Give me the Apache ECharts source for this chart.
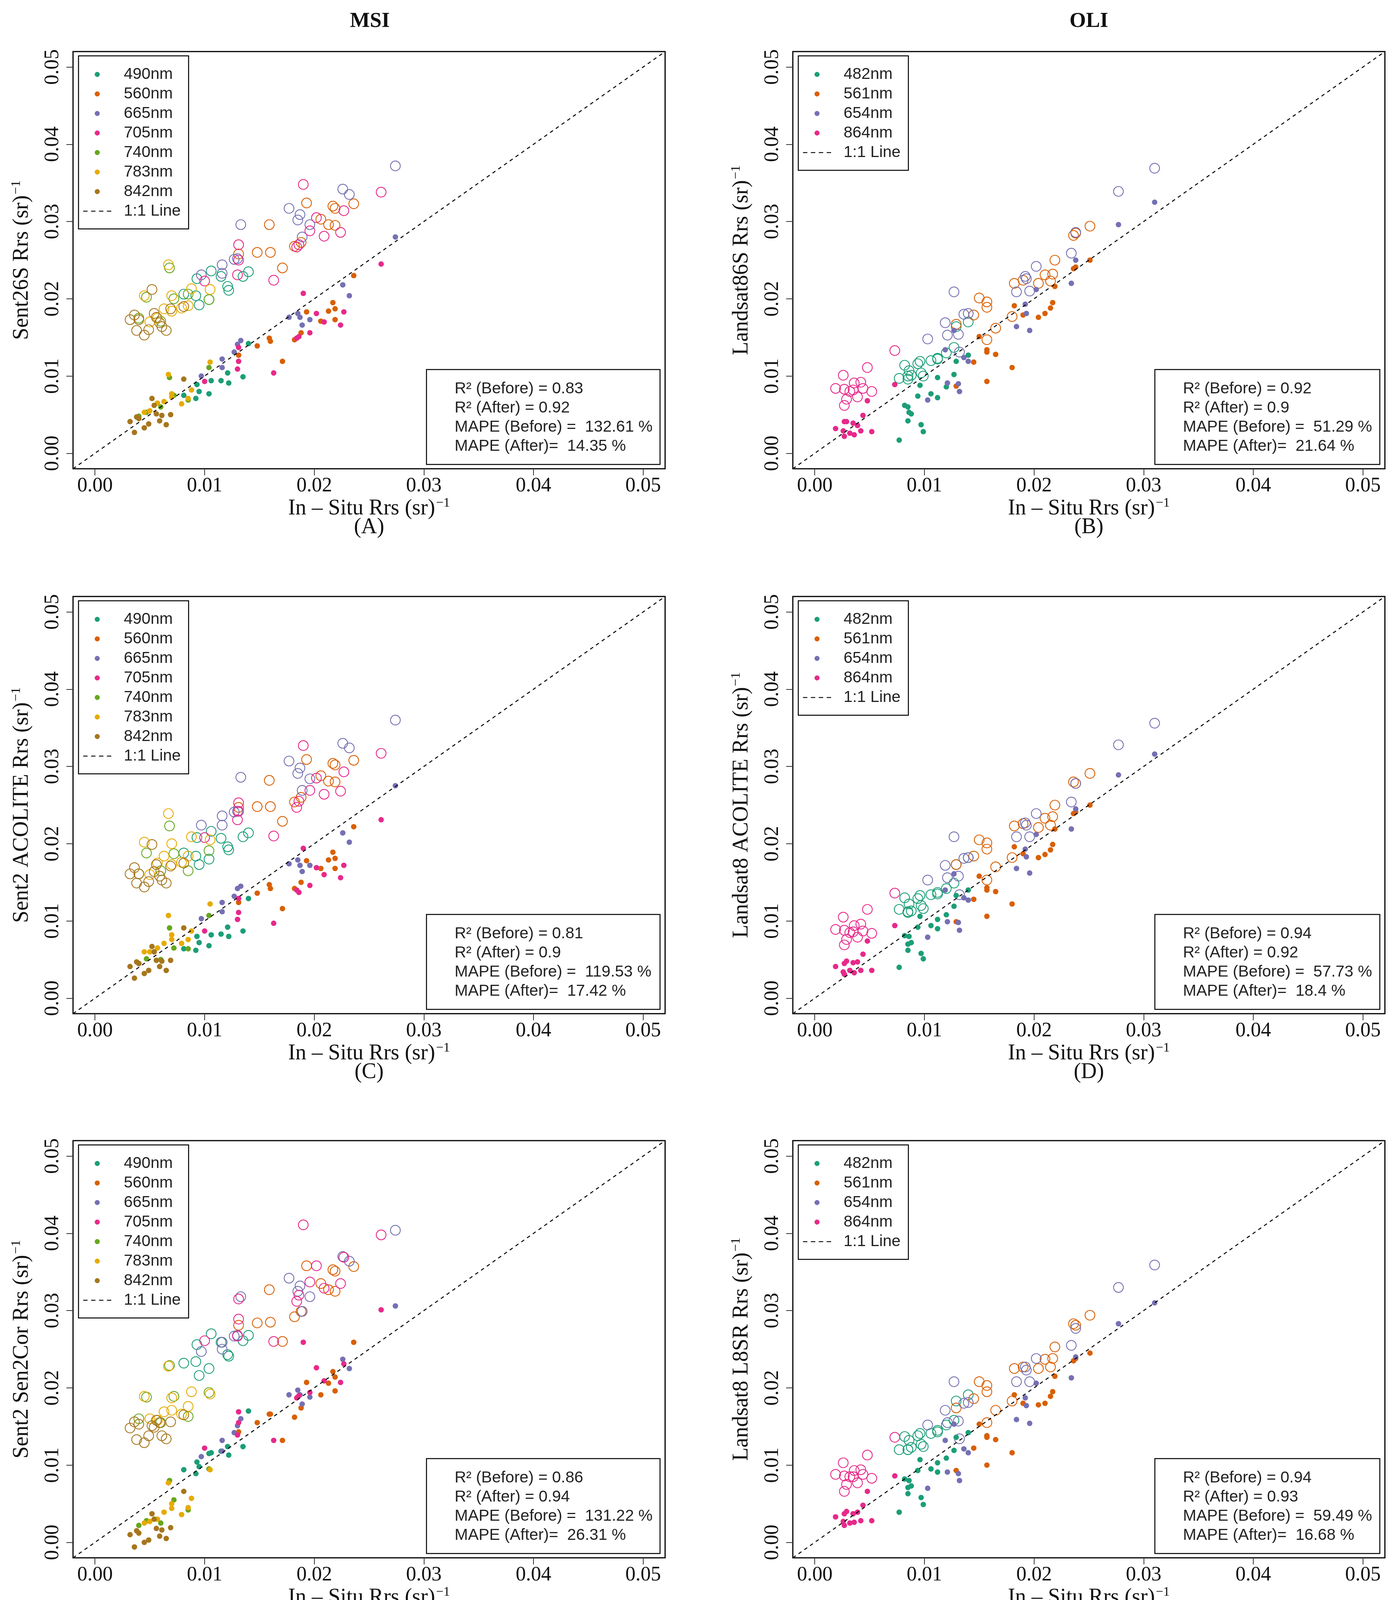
<!DOCTYPE html>
<html>
<head>
<meta charset="utf-8">
<script src="https://cdn.jsdelivr.net/npm/echarts@6/dist/echarts.min.js"></script>
<style>
html, body { margin: 0; background: #fff; }
#chart { width: 3577px; height: 4179px; }
</style>
</head>
<body>
<div id="chart"></div>
<script>
// bands and colours (R Dark2)
var msiBands = ['490nm', '560nm', '665nm', '705nm', '740nm', '783nm', '842nm'];
var msiColors = ['#1B9E77', '#D95F02', '#7570B3', '#E7298A', '#66A61E', '#E6AB02', '#A6761D'];
var oliBands = ['482nm', '561nm', '654nm', '864nm'];
var oliColors = ['#1B9E77', '#D95F02', '#7570B3', '#E7298A'];
var tickValues = [0, 0.01, 0.02, 0.03, 0.04, 0.05];
var lineEnds = [[-0.002, -0.002], [0.052, 0.052]];

// in-situ Rrs, one list per MSI band
var msiInSitu = [
    [0.0140, 0.0135, 0.0121, 0.0122, 0.0115, 0.0106, 0.0104, 0.0093, 0.0092, 0.0081, 0.0095],
    [0.0236, 0.0217, 0.0219, 0.0213, 0.0193, 0.0206, 0.0219, 0.0159, 0.0160, 0.0148, 0.0171, 0.0188, 0.0182, 0.0131],
    [0.0274, 0.0226, 0.0232, 0.0177, 0.0187, 0.0185, 0.0196, 0.0189, 0.0133, 0.0130, 0.0127, 0.0116, 0.0116, 0.0097],
    [0.0261, 0.0190, 0.0227, 0.0224, 0.0209, 0.0202, 0.0196, 0.0184, 0.0186, 0.0163, 0.0131, 0.0131, 0.0130, 0.0100],
    [0.0068, 0.0047, 0.0072, 0.0104, 0.0085, 0.0040, 0.0060],
    [0.0067, 0.0045, 0.0070, 0.0088, 0.0105, 0.0079, 0.0085, 0.0070, 0.0063, 0.0050, 0.0057],
    [0.0032, 0.0036, 0.0038, 0.0040, 0.0045, 0.0049, 0.0052, 0.0054, 0.0056, 0.0059, 0.0061, 0.0065, 0.0069, 0.0081]
];
// (A) 6S
var sent26sBefore = [
    [0.0235, 0.0229, 0.0216, 0.0211, 0.0229, 0.0236, 0.0199, 0.0226, 0.0204, 0.0206, 0.0192],
    [0.0323, 0.0320, 0.0317, 0.0296, 0.0324, 0.0303, 0.0295, 0.0296, 0.0260, 0.0260, 0.0240, 0.0273, 0.0268, 0.0258],
    [0.0372, 0.0342, 0.0335, 0.0317, 0.0309, 0.0302, 0.0296, 0.0280, 0.0296, 0.0252, 0.0251, 0.0244, 0.0233, 0.0231],
    [0.0338, 0.0348, 0.0314, 0.0286, 0.0281, 0.0305, 0.0288, 0.0267, 0.0270, 0.0224, 0.0270, 0.0250, 0.0231, 0.0223],
    [0.0240, 0.0202, 0.0200, 0.0199, 0.0206, 0.0175, 0.0171],
    [0.0244, 0.0204, 0.0204, 0.0213, 0.0212, 0.0188, 0.0191, 0.0184, 0.0187, 0.0170, 0.0175],
    [0.0173, 0.0179, 0.0159, 0.0173, 0.0153, 0.0160, 0.0212, 0.0181, 0.0176, 0.0169, 0.0164, 0.0159, 0.0187, 0.0190]
];
var sent26sAfter = [
    [0.0142, 0.0099, 0.0104, 0.0091, 0.0094, 0.0094, 0.0077, 0.0089, 0.0071, 0.0075, 0.0080],
    [0.0230, 0.0195, 0.0187, 0.0184, 0.0183, 0.0171, 0.0173, 0.0149, 0.0145, 0.0139, 0.0119, 0.0156, 0.0147, 0.0127],
    [0.0280, 0.0218, 0.0204, 0.0176, 0.0176, 0.0181, 0.0173, 0.0166, 0.0146, 0.0141, 0.0131, 0.0122, 0.0111, 0.0100],
    [0.0245, 0.0207, 0.0183, 0.0166, 0.0170, 0.0181, 0.0156, 0.0149, 0.0151, 0.0104, 0.0137, 0.0119, 0.0109, 0.0093],
    [0.0098, 0.0053, 0.0075, 0.0111, 0.0069, 0.0048, 0.0060],
    [0.0102, 0.0053, 0.0077, 0.0082, 0.0118, 0.0064, 0.0071, 0.0073, 0.0067, 0.0055, 0.0065],
    [0.0041, 0.0027, 0.0047, 0.0045, 0.0033, 0.0038, 0.0071, 0.0062, 0.0051, 0.0042, 0.0049, 0.0037, 0.0050, 0.0096]
];
// (C) ACOLITE MSI
var acoliteMsiBefore = [
    [0.0214, 0.0209, 0.0196, 0.0192, 0.0207, 0.0216, 0.0180, 0.0208, 0.0184, 0.0188, 0.0173],
    [0.0308, 0.0304, 0.0302, 0.0281, 0.0309, 0.0288, 0.0280, 0.0282, 0.0248, 0.0248, 0.0229, 0.0260, 0.0254, 0.0247],
    [0.0360, 0.0330, 0.0324, 0.0307, 0.0298, 0.0291, 0.0284, 0.0269, 0.0286, 0.0242, 0.0241, 0.0236, 0.0224, 0.0224],
    [0.0317, 0.0327, 0.0293, 0.0268, 0.0264, 0.0285, 0.0269, 0.0247, 0.0255, 0.0210, 0.0253, 0.0242, 0.0231, 0.0208],
    [0.0223, 0.0188, 0.0187, 0.0191, 0.0165, 0.0161, 0.0165],
    [0.0239, 0.0202, 0.0200, 0.0209, 0.0205, 0.0176, 0.0184, 0.0173, 0.0184, 0.0160, 0.0175],
    [0.0161, 0.0169, 0.0149, 0.0161, 0.0144, 0.0151, 0.0199, 0.0164, 0.0173, 0.0158, 0.0153, 0.0149, 0.0171, 0.0175]
];
var acoliteMsiAfter = [
    [0.0129, 0.0087, 0.0092, 0.0080, 0.0083, 0.0082, 0.0068, 0.0080, 0.0062, 0.0064, 0.0072],
    [0.0222, 0.0189, 0.0181, 0.0179, 0.0178, 0.0168, 0.0168, 0.0147, 0.0142, 0.0136, 0.0116, 0.0150, 0.0142, 0.0124],
    [0.0275, 0.0214, 0.0202, 0.0174, 0.0172, 0.0179, 0.0172, 0.0164, 0.0145, 0.0142, 0.0132, 0.0124, 0.0112, 0.0103],
    [0.0231, 0.0194, 0.0172, 0.0156, 0.0160, 0.0169, 0.0146, 0.0140, 0.0137, 0.0097, 0.0129, 0.0111, 0.0102, 0.0087],
    [0.0091, 0.0051, 0.0065, 0.0107, 0.0064, 0.0045, 0.0050],
    [0.0107, 0.0060, 0.0082, 0.0087, 0.0122, 0.0071, 0.0076, 0.0076, 0.0071, 0.0060, 0.0065],
    [0.0041, 0.0026, 0.0047, 0.0045, 0.0032, 0.0036, 0.0067, 0.0060, 0.0049, 0.0041, 0.0048, 0.0036, 0.0049, 0.0091]
];
// (E) Sen2Cor
var sen2corBefore = [
    [0.0268, 0.0261, 0.0243, 0.0241, 0.0259, 0.0270, 0.0225, 0.0256, 0.0234, 0.0232, 0.0216],
    [0.0357, 0.0353, 0.0351, 0.0327, 0.0358, 0.0335, 0.0325, 0.0327, 0.0285, 0.0284, 0.0260, 0.0299, 0.0292, 0.0281],
    [0.0404, 0.0370, 0.0364, 0.0342, 0.0332, 0.0325, 0.0318, 0.0299, 0.0318, 0.0268, 0.0267, 0.0259, 0.0250, 0.0247],
    [0.0398, 0.0411, 0.0369, 0.0335, 0.0329, 0.0358, 0.0337, 0.0312, 0.0320, 0.0260, 0.0315, 0.0289, 0.0267, 0.0261],
    [0.0229, 0.0188, 0.0189, 0.0194, 0.0163, 0.0160, 0.0155],
    [0.0228, 0.0189, 0.0187, 0.0195, 0.0192, 0.0166, 0.0176, 0.0171, 0.0169, 0.0160, 0.0158],
    [0.0148, 0.0156, 0.0133, 0.0153, 0.0129, 0.0138, 0.0151, 0.0149, 0.0158, 0.0155, 0.0138, 0.0134, 0.0156, 0.0165]
];
var sen2corAfter = [
    [0.0170, 0.0124, 0.0124, 0.0113, 0.0118, 0.0116, 0.0115, 0.0104, 0.0089, 0.0094, 0.0098],
    [0.0259, 0.0221, 0.0214, 0.0206, 0.0207, 0.0191, 0.0196, 0.0166, 0.0166, 0.0155, 0.0132, 0.0174, 0.0162, 0.0143],
    [0.0306, 0.0237, 0.0225, 0.0191, 0.0191, 0.0197, 0.0188, 0.0179, 0.0160, 0.0151, 0.0142, 0.0132, 0.0118, 0.0111],
    [0.0301, 0.0259, 0.0231, 0.0207, 0.0209, 0.0226, 0.0194, 0.0187, 0.0190, 0.0132, 0.0169, 0.0155, 0.0139, 0.0122],
    [0.0080, 0.0028, 0.0055, 0.0095, 0.0042, 0.0022, 0.0025],
    [0.0077, 0.0025, 0.0050, 0.0057, 0.0094, 0.0036, 0.0045, 0.0044, 0.0039, 0.0027, 0.0030],
    [0.0010, -0.0006, 0.0015, 0.0012, 0.0000, 0.0003, 0.0037, 0.0030, 0.0018, 0.0008, 0.0016, 0.0005, 0.0019, 0.0066]
];

// in-situ Rrs, one list per OLI band
var oliInSitu = [
    [0.0140, 0.0129, 0.0127, 0.0120, 0.0112, 0.0112, 0.0106, 0.0096, 0.0094, 0.0097, 0.0099, 0.0086, 0.0082, 0.0085, 0.0088, 0.0085, 0.0077],
    [0.0251, 0.0236, 0.0238, 0.0219, 0.0217, 0.0210, 0.0215, 0.0204, 0.0182, 0.0190, 0.0150, 0.0157, 0.0157, 0.0180, 0.0165, 0.0145, 0.0157, 0.0129],
    [0.0310, 0.0277, 0.0238, 0.0234, 0.0202, 0.0192, 0.0193, 0.0184, 0.0196, 0.0127, 0.0119, 0.0136, 0.0140, 0.0121, 0.0131, 0.0132, 0.0103],
    [0.0073, 0.0048, 0.0026, 0.0019, 0.0027, 0.0032, 0.0036, 0.0042, 0.0044, 0.0039, 0.0029, 0.0027, 0.0052, 0.0035]
];
// (B) 6S
var landsat6sBefore = [
    [0.0170, 0.0164, 0.0137, 0.0130, 0.0123, 0.0122, 0.0120, 0.0119, 0.0116, 0.0104, 0.0100, 0.0107, 0.0114, 0.0096, 0.0101, 0.0100, 0.0097],
    [0.0294, 0.0282, 0.0285, 0.0250, 0.0232, 0.0231, 0.0223, 0.0220, 0.0220, 0.0224, 0.0201, 0.0196, 0.0189, 0.0177, 0.0162, 0.0179, 0.0147, 0.0167],
    [0.0369, 0.0339, 0.0286, 0.0259, 0.0242, 0.0229, 0.0226, 0.0209, 0.0210, 0.0209, 0.0169, 0.0180, 0.0181, 0.0153, 0.0154, 0.0131, 0.0148],
    [0.0133, 0.0111, 0.0101, 0.0084, 0.0083, 0.0080, 0.0091, 0.0092, 0.0084, 0.0073, 0.0070, 0.0062, 0.0080, 0.0082]
];
var landsat6sAfter = [
    [0.0127, 0.0119, 0.0102, 0.0086, 0.0098, 0.0072, 0.0077, 0.0088, 0.0074, 0.0037, 0.0028, 0.0053, 0.0062, 0.0060, 0.0051, 0.0042, 0.0017],
    [0.0250, 0.0239, 0.0241, 0.0216, 0.0195, 0.0181, 0.0188, 0.0176, 0.0191, 0.0179, 0.0151, 0.0134, 0.0131, 0.0111, 0.0128, 0.0118, 0.0093, 0.0087],
    [0.0325, 0.0296, 0.0250, 0.0220, 0.0212, 0.0193, 0.0181, 0.0164, 0.0159, 0.0159, 0.0134, 0.0124, 0.0119, 0.0091, 0.0090, 0.0080, 0.0069],
    [0.0089, 0.0068, 0.0029, 0.0032, 0.0022, 0.0026, 0.0024, 0.0029, 0.0049, 0.0036, 0.0041, 0.0041, 0.0028, 0.0039]
];
// (D) ACOLITE OLI
var acoliteOliBefore = [
    [0.0182, 0.0173, 0.0149, 0.0142, 0.0137, 0.0135, 0.0134, 0.0133, 0.0129, 0.0120, 0.0116, 0.0122, 0.0130, 0.0111, 0.0113, 0.0112, 0.0115],
    [0.0291, 0.0280, 0.0278, 0.0250, 0.0235, 0.0233, 0.0224, 0.0221, 0.0223, 0.0226, 0.0205, 0.0201, 0.0193, 0.0182, 0.0170, 0.0184, 0.0153, 0.0173],
    [0.0356, 0.0328, 0.0278, 0.0254, 0.0239, 0.0227, 0.0224, 0.0209, 0.0209, 0.0209, 0.0172, 0.0181, 0.0182, 0.0156, 0.0158, 0.0134, 0.0153],
    [0.0136, 0.0115, 0.0105, 0.0089, 0.0088, 0.0085, 0.0094, 0.0096, 0.0087, 0.0079, 0.0076, 0.0069, 0.0084, 0.0086]
];
var acoliteOliAfter = [
    [0.0140, 0.0133, 0.0119, 0.0108, 0.0102, 0.0090, 0.0094, 0.0106, 0.0092, 0.0058, 0.0051, 0.0080, 0.0081, 0.0070, 0.0072, 0.0062, 0.0040],
    [0.0250, 0.0239, 0.0241, 0.0219, 0.0199, 0.0186, 0.0192, 0.0182, 0.0196, 0.0187, 0.0158, 0.0143, 0.0140, 0.0122, 0.0138, 0.0128, 0.0106, 0.0099],
    [0.0316, 0.0289, 0.0245, 0.0219, 0.0212, 0.0193, 0.0183, 0.0168, 0.0162, 0.0161, 0.0140, 0.0130, 0.0127, 0.0099, 0.0098, 0.0088, 0.0079],
    [0.0094, 0.0074, 0.0034, 0.0041, 0.0031, 0.0036, 0.0033, 0.0036, 0.0057, 0.0047, 0.0048, 0.0045, 0.0036, 0.0046]
];
// (F) L8SR
var l8srBefore = [
    [0.0191, 0.0183, 0.0158, 0.0152, 0.0145, 0.0143, 0.0141, 0.0141, 0.0138, 0.0127, 0.0124, 0.0132, 0.0137, 0.0120, 0.0123, 0.0120, 0.0120],
    [0.0294, 0.0283, 0.0281, 0.0253, 0.0238, 0.0237, 0.0227, 0.0225, 0.0225, 0.0227, 0.0208, 0.0203, 0.0195, 0.0183, 0.0171, 0.0186, 0.0155, 0.0174],
    [0.0359, 0.0330, 0.0277, 0.0255, 0.0238, 0.0227, 0.0223, 0.0208, 0.0208, 0.0208, 0.0171, 0.0180, 0.0181, 0.0155, 0.0157, 0.0134, 0.0152],
    [0.0136, 0.0113, 0.0103, 0.0088, 0.0086, 0.0085, 0.0093, 0.0094, 0.0088, 0.0077, 0.0075, 0.0066, 0.0083, 0.0085]
];
var l8srAfter = [
    [0.0142, 0.0136, 0.0119, 0.0109, 0.0103, 0.0091, 0.0095, 0.0107, 0.0093, 0.0058, 0.0049, 0.0080, 0.0082, 0.0071, 0.0073, 0.0063, 0.0039],
    [0.0245, 0.0235, 0.0238, 0.0215, 0.0195, 0.0180, 0.0189, 0.0178, 0.0191, 0.0180, 0.0153, 0.0138, 0.0136, 0.0116, 0.0133, 0.0122, 0.0100, 0.0093],
    [0.0310, 0.0283, 0.0240, 0.0213, 0.0206, 0.0187, 0.0177, 0.0159, 0.0154, 0.0153, 0.0132, 0.0121, 0.0116, 0.0091, 0.0089, 0.0080, 0.0070],
    [0.0086, 0.0066, 0.0027, 0.0033, 0.0022, 0.0025, 0.0026, 0.0028, 0.0048, 0.0039, 0.0040, 0.0037, 0.0028, 0.0037]
];

// R2 before, R2 after, MAPE before, MAPE after
var statsA = ['0.83', '0.92', '132.61', '14.35'];
var statsB = ['0.92', '0.9', '51.29', '21.64'];
var statsC = ['0.81', '0.9', '119.53', '17.42'];
var statsD = ['0.94', '0.92', '57.73', '18.4'];
var statsE = ['0.86', '0.94', '131.22', '26.31'];
var statsF = ['0.94', '0.93', '59.49', '16.68'];

var panels = [
    {tag: '(A)', yName: 'Sent26S Rrs (sr)', bands: msiBands, colors: msiColors, x: msiInSitu, before: sent26sBefore, after: sent26sAfter, stats: statsA},
    {tag: '(B)', yName: 'Landsat86S Rrs (sr)', bands: oliBands, colors: oliColors, x: oliInSitu, before: landsat6sBefore, after: landsat6sAfter, stats: statsB},
    {tag: '(C)', yName: 'Sent2 ACOLITE Rrs (sr)', bands: msiBands, colors: msiColors, x: msiInSitu, before: acoliteMsiBefore, after: acoliteMsiAfter, stats: statsC},
    {tag: '(D)', yName: 'Landsat8 ACOLITE Rrs (sr)', bands: oliBands, colors: oliColors, x: oliInSitu, before: acoliteOliBefore, after: acoliteOliAfter, stats: statsD},
    {tag: '(E)', yName: 'Sent2 Sen2Cor Rrs (sr)', bands: msiBands, colors: msiColors, x: msiInSitu, before: sen2corBefore, after: sen2corAfter, stats: statsE},
    {tag: '(F)', yName: 'Landsat8 L8SR Rrs (sr)', bands: oliBands, colors: oliColors, x: oliInSitu, before: l8srBefore, after: l8srAfter, stats: statsF}
];

var colLeft = [187, 2030];
var rowTop = [132, 1527, 2920];
var gw = 1516, gh = 1068;
var serif = 'Liberation Serif', sans = 'Liberation Sans';
var dashIcon = 'path://M0,0h10v2h-10z M18,0h10v2h-10z M36,0h10v2h-10z M54,0h10v2h-10z';

// m: main text, s: raised "-1", t: panel letter under the x title
var richName = {
    m: {fontFamily: serif, fontSize: 56, color: '#111', lineHeight: 50},
    s: {fontFamily: serif, fontSize: 34, color: '#111', verticalAlign: 'top', padding: [0, 0, 28, 2]},
    t: {fontFamily: serif, fontSize: 56, color: '#111', lineHeight: 34}
};

function fmt(v) { return v.toFixed(2); }

function pairs(xs, ys) {
    var out = [];
    for (var k = 0; k < xs.length; k++) out.push([xs[k], ys[k]]);
    return out;
}

var grids = [], xAxes = [], yAxes = [], series = [], legends = [], graphics = [];

graphics.push({type: 'text', style: {text: 'MSI', x: 947, y: 55, fill: '#111', fontFamily: serif, fontWeight: 'bold', fontSize: 54, align: 'center', verticalAlign: 'middle'}});
graphics.push({type: 'text', style: {text: 'OLI', x: 2788, y: 55, fill: '#111', fontFamily: serif, fontWeight: 'bold', fontSize: 54, align: 'center', verticalAlign: 'middle'}});

for (var i = 0; i < panels.length; i++) {
    var p = panels[i];
    var gl = colLeft[i % 2], gt = rowTop[Math.floor(i / 2)];
    grids.push({left: gl, top: gt, width: gw, height: gh, show: true, borderColor: '#000', borderWidth: 3, backgroundColor: 'transparent'});

    var axisBase = {
        type: 'value', gridIndex: i, min: -0.002, max: 0.052,
        splitLine: {show: false},
        axisLine: {show: false, onZero: false},
        axisTick: {show: true, inside: false, length: 17, customValues: tickValues, lineStyle: {color: '#333', width: 2}},
        nameLocation: 'middle'
    };
    xAxes.push(Object.assign({}, axisBase, {
        position: 'bottom',
        axisLabel: {customValues: tickValues, formatter: fmt, fontFamily: serif, fontSize: 52, color: '#111', margin: 18},
        name: '{m|In – Situ Rrs (sr)}{s|−1}\n{t|' + p.tag + '}',
        nameGap: 110,
        nameTextStyle: {rich: richName, align: 'center', verticalAlign: 'middle'}
    }));
    yAxes.push(Object.assign({}, axisBase, {
        position: 'left',
        axisLabel: {customValues: tickValues, formatter: fmt, fontFamily: serif, fontSize: 52, color: '#111', margin: 26, rotate: 90},
        name: '{m|' + p.yName + '}{s|−1}',
        nameRotate: 90,
        nameGap: 131,
        nameTextStyle: {rich: richName, align: 'center', verticalAlign: 'middle'}
    }));

    // open circles: before correction
    for (var b = 0; b < p.bands.length; b++) {
        series.push({
            type: 'scatter', name: p.bands[b] + ' before', xAxisIndex: i, yAxisIndex: i,
            symbol: 'circle', symbolSize: 25,
            itemStyle: {color: 'rgba(0,0,0,0)', borderColor: p.colors[b], borderWidth: 2.2, opacity: 1},
            data: pairs(p.x[b], p.before[b])
        });
    }
    // filled dots: after correction
    for (var b2 = 0; b2 < p.bands.length; b2++) {
        series.push({
            type: 'scatter', name: p.bands[b2], xAxisIndex: i, yAxisIndex: i,
            symbol: 'circle', symbolSize: 14,
            itemStyle: {color: p.colors[b2], opacity: 1},
            data: pairs(p.x[b2], p.after[b2])
        });
    }
    series.push({
        type: 'line', name: '1:1 Line', xAxisIndex: i, yAxisIndex: i,
        symbol: 'none', silent: true,
        itemStyle: {color: '#000'},
        lineStyle: {color: '#000', width: 2.5, type: [9, 9]},
        data: lineEnds
    });

    var legendData = p.bands.map(function (n) { return {name: n, icon: 'circle'}; });
    legendData.push({name: '1:1 Line', icon: dashIcon, itemStyle: {color: '#000'}});
    legends.push({
        orient: 'vertical', left: gl + 14, top: gt + 11,
        data: legendData, selectedMode: false,
        itemWidth: 72, itemHeight: 13, itemGap: 9,
        padding: [27, 20, 25, 12],
        borderColor: '#000', borderWidth: 2.5, backgroundColor: '#fff',
        textStyle: {fontFamily: sans, fontSize: 41, color: '#222', padding: [0, 0, 0, 27]}
    });

    // statistics box
    var bw = (p.bands.length > 4) ? 598 : 576, bh = 243;
    var bx = gl + gw - 13 - bw, by = gt + gh - 11 - bh;
    graphics.push({type: 'rect', shape: {x: bx, y: by, width: bw, height: bh}, style: {fill: '#fff', stroke: '#000', lineWidth: 2.5}, z: 10});
    var lines = [
        'R² (Before) = ' + p.stats[0],
        'R² (After) = ' + p.stats[1],
        'MAPE (Before) =  ' + p.stats[2] + ' %',
        'MAPE (After)=  ' + p.stats[3] + ' %'
    ];
    for (var l = 0; l < lines.length; l++) {
        graphics.push({type: 'text', z: 11, style: {text: lines[l], x: bx + 72, y: by + 50 + l * 49, fill: '#222', fontFamily: sans, fontSize: 41, verticalAlign: 'middle'}});
    }
}

var myChart = echarts.init(document.getElementById('chart'));
myChart.setOption({
    animation: false,
    backgroundColor: '#fff',
    grid: grids,
    xAxis: xAxes,
    yAxis: yAxes,
    legend: legends,
    series: series,
    graphic: graphics
});
</script>
</body>
</html>
